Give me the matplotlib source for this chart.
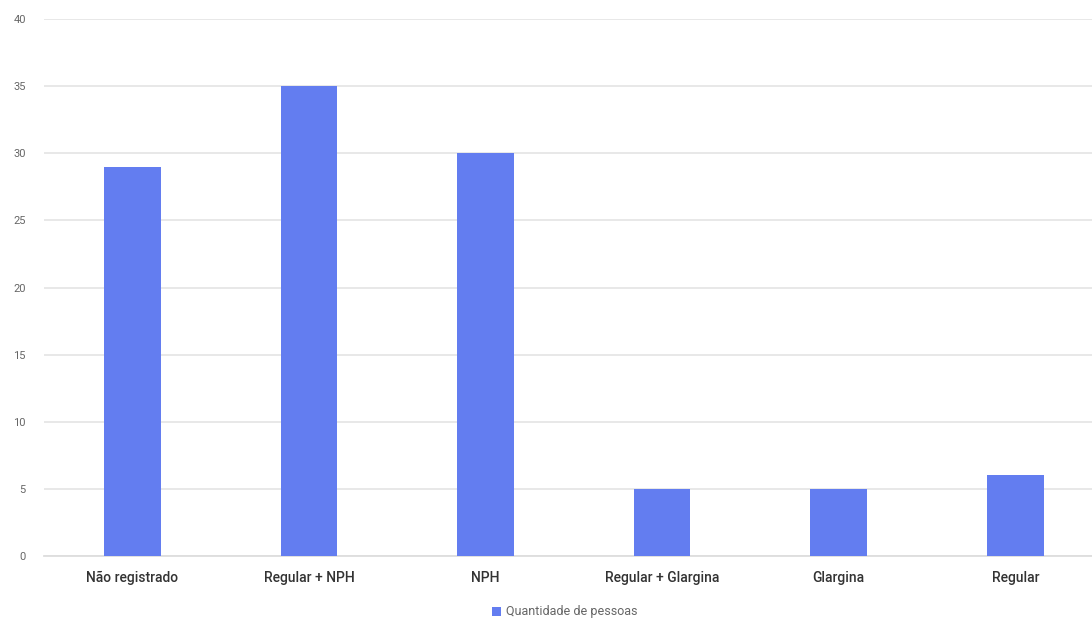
import matplotlib
matplotlib.use("Agg")
import matplotlib.pyplot as plt
from matplotlib.patches import Patch

categories = ["Não registrado", "Regular + NPH", "NPH", "Regular + Glargina", "Glargina", "Regular"]
values = [29, 35, 30, 5, 5, 6]
yticks = [0, 5, 10, 15, 20, 25, 30, 35, 40]
series_name = "Quantidade de pessoas"

plt.rcParams['font.family'] = ['Roboto', 'DejaVu Sans']

fig = plt.figure(figsize=(10.92, 6.2), dpi=100)
ax = fig.add_axes([44/1092, (620-556)/620, 1 - 44/1092, (556-19)/620])

x = list(range(len(categories)))
ax.bar(x, values, width=0.32, color="#637DF0", zorder=3)

ax.set_ylim(0, 40)
ax.set_xlim(-0.5, -0.5 + (1092-44)/176.6)
ax.set_yticks(yticks)
ax.set_yticklabels([str(t) for t in yticks], fontsize=8, color="#666666")
ax.set_xticks(x)
ax.set_xticklabels(categories, fontsize=10, color="#333333", fontweight="medium")
ax.tick_params(axis='both', length=0)
ax.tick_params(axis='y', pad=13)
ax.tick_params(axis='x', pad=11)
ax.grid(axis='y', color="#e6e6e6", linewidth=1.3, zorder=0)
for s in ['top', 'right', 'left']:
    ax.spines[s].set_visible(False)
ax.spines['bottom'].set_color("#dddddd")
ax.spines['bottom'].set_linewidth(1.3)

handles = [Patch(facecolor="#637DF0", label=series_name)]
fig.legend(handles=handles, loc='center', bbox_to_anchor=(565/1092, 1 - 612/620),
           frameon=False, fontsize=9, handlelength=0.7, handleheight=0.7,
           handletextpad=0.4, labelcolor="#666666")

fig.savefig("out.png", dpi=100)
